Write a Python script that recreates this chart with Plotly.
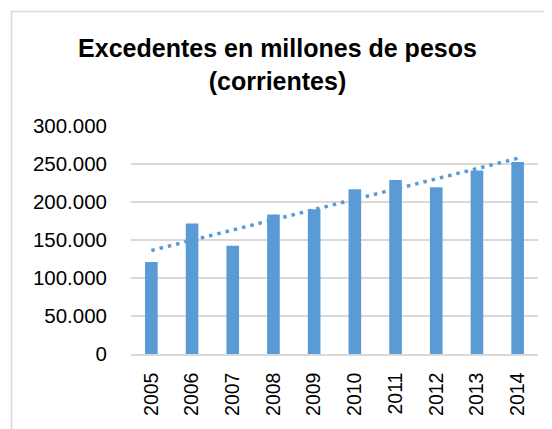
import numpy as np
import plotly.graph_objects as go

years = ["2005", "2006", "2007", "2008", "2009", "2010", "2011", "2012", "2013", "2014"]
excedentes = [121000, 171700, 142300, 183500, 190500, 216800, 229000, 219400, 241400, 252700]
y_ticks = [0, 50000, 100000, 150000, 200000, 250000, 300000]
y_tick_labels = ["0", "50.000", "100.000", "150.000", "200.000", "250.000", "300.000"]

# linear trend (as in the spreadsheet trendline)
idx = np.arange(len(years))
slope, intercept = np.polyfit(idx, excedentes, 1)
trend = (slope * idx + intercept).tolist()

BLUE = "#5b9bd5"
GRID = "#d9d9d9"
FONT = "Liberation Sans, Arial, sans-serif"

# the page body adds an 8px offset, so the figure is 8px smaller
W, H = 544, 421
L, R, T, B = 123, 14, 118, 75
pw, ph = W - L - R, H - T - B

fig = go.Figure()
fig.add_trace(go.Bar(x=years, y=excedentes, marker=dict(color=BLUE, line=dict(width=0)),
                     hoverinfo="x+y"))
fig.add_trace(go.Scatter(x=years, y=trend, mode="lines",
                         line=dict(color=BLUE, width=3.5, dash="3.5px,5px"), hoverinfo="skip"))

def px_x(p):
    return (p - L) / pw

def px_y(p):
    return (H - B - p) / ph

fig.add_shape(type="rect", xref="paper", yref="paper",
              x0=px_x(3.5), x1=px_x(W + 20), y0=px_y(H + 20), y1=px_y(3.5),
              line=dict(color=GRID, width=1.5), fillcolor="rgba(0,0,0,0)", layer="below")

fig.update_layout(
    width=W, height=H,
    margin=dict(l=L, r=R, t=T, b=B),
    paper_bgcolor="white", plot_bgcolor="white",
    showlegend=False,
    bargap=0.69,
    font=dict(family=FONT, color="black"),
    title=dict(text="<b>Excedentes en millones de pesos<br>(corrientes)</b>",
               x=0.4954, xanchor="center", xref="container",
               y=1 - 49 / H, yanchor="top", yref="container",
               font=dict(size=25, family=FONT, color="black")),
    xaxis=dict(type="category", tickangle=-90, showgrid=False, ticks="",
               showline=True, linecolor=GRID, linewidth=1.5,
               tickfont=dict(size=19.5, family=FONT, color="black"),
               ticklabelstandoff=9),
    yaxis=dict(range=[0, 300000], tickvals=y_ticks, ticktext=y_tick_labels,
               showgrid=True, gridcolor=GRID, gridwidth=1.5, zeroline=False,
               showline=False, ticks="",
               tickfont=dict(size=20.5, family=FONT, color="black"),
               ticklabelstandoff=23),
)

fig.write_html("out.html")
